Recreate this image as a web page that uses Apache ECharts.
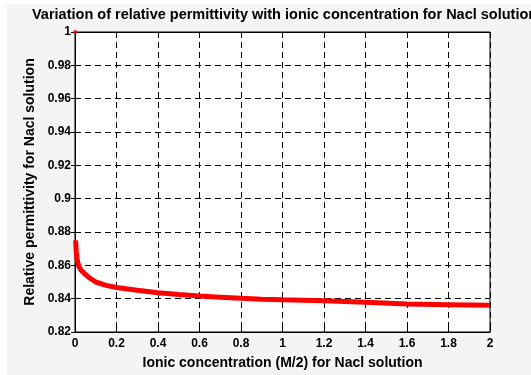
<!DOCTYPE html>
<html>
<head>
<meta charset="utf-8">
<script src="https://cdn.jsdelivr.net/npm/echarts@6/dist/echarts.min.js"></script>
<style>
  html, body { margin: 0; padding: 0; }
  #chart { width: 531px; height: 375px; }
</style>
</head>
<body>
<div id="chart"></div>
<script>
// data
var concX = [0.003, 0.006, 0.01, 0.015, 0.02, 0.03, 0.05, 0.075, 0.1, 0.15, 0.2, 0.3, 0.4, 0.5, 0.6, 0.7, 0.8, 0.9, 1.0, 1.2, 1.4, 1.6, 1.8, 2.0];
var permittivity = [0.875, 0.868, 0.864, 0.861, 0.859, 0.857, 0.8545, 0.852, 0.850, 0.848, 0.8467, 0.845, 0.8436, 0.8425, 0.8416, 0.8409, 0.8402, 0.8397, 0.8393, 0.8387, 0.8379, 0.8368, 0.8364, 0.836];
var startPoint = [0, 1];
var xTicks = { min: 0, max: 2, step: 0.2 };
var yTicks = { min: 0.82, max: 1, step: 0.02 };

var lineData = concX.map(function (c, i) { return [c, permittivity[i]]; });

var chart = echarts.init(document.getElementById('chart'));

var font = 'Liberation Sans, Arial, Helvetica, sans-serif';
var gridDash = { color: '#000', width: 1, type: [6, 4] };

chart.setOption({
  backgroundColor: '#f4f4f4',
  animation: false,
  graphic: [
    { type: 'rect', left: 0, top: 0, shape: { width: 7, height: 375 }, style: { fill: '#fff' }, silent: true },
    { type: 'rect', left: 0, top: 0, shape: { width: 531, height: 4 }, style: { fill: '#fff' }, silent: true }
  ],
  title: {
    text: 'Variation of relative permittivity with ionic concentration for Nacl solution',
    left: 32,
    top: 7,
    padding: 0,
    textStyle: { fontFamily: font, fontSize: 14.5, fontWeight: 'bold', color: '#000' }
  },
  grid: {
    left: 75, right: 41, top: 32, bottom: 40,
    show: true, backgroundColor: '#fff', borderColor: '#000', borderWidth: 1
  },
  xAxis: [{
    type: 'value',
    min: xTicks.min, max: xTicks.max, interval: xTicks.step,
    name: 'Ionic concentration (M/2) for Nacl solution',
    nameLocation: 'middle',
    nameGap: 24,
    nameTextStyle: { fontFamily: font, fontSize: 14, fontWeight: 'bold', color: '#000' },
    axisLine: { show: true, lineStyle: { color: '#000', width: 1 } },
    axisTick: { show: true, inside: true, length: 4, lineStyle: { color: '#000' } },
    axisLabel: { fontFamily: font, fontSize: 12, fontWeight: 'bold', color: '#000', margin: 6 },
    splitLine: { show: true, lineStyle: gridDash }
  }, {
    type: 'value', position: 'top',
    min: xTicks.min, max: xTicks.max, interval: xTicks.step,
    axisLine: { show: true, lineStyle: { color: '#000', width: 1 } },
    axisTick: { show: true, inside: true, length: 4, lineStyle: { color: '#000' } },
    axisLabel: { show: false },
    splitLine: { show: false }
  }],
  yAxis: [{
    type: 'value',
    min: yTicks.min, max: yTicks.max, interval: yTicks.step,
    name: 'Relative permittivity for Nacl solution',
    nameLocation: 'middle',
    nameGap: 29,
    nameTextStyle: { fontFamily: font, fontSize: 14, fontWeight: 'bold', color: '#000' },
    axisLine: { show: true, lineStyle: { color: '#000', width: 1 } },
    axisTick: { show: true, inside: true, length: 4, lineStyle: { color: '#000' } },
    axisLabel: { fontFamily: font, fontSize: 12, fontWeight: 'bold', color: '#000', margin: 4 },
    splitLine: { show: true, lineStyle: gridDash }
  }, {
    type: 'value', position: 'right',
    min: yTicks.min, max: yTicks.max, interval: yTicks.step,
    axisLine: { show: true, lineStyle: { color: '#000', width: 1 } },
    axisTick: { show: true, inside: true, length: 4, lineStyle: { color: '#000' } },
    axisLabel: { show: false },
    splitLine: { show: false }
  }],
  series: [{
    type: 'line',
    data: lineData,
    showSymbol: false,
    smooth: false,
    lineStyle: { color: '#ff0000', width: 5 },
    z: 3
  }, {
    type: 'scatter',
    data: [startPoint],
    symbolSize: 4,
    itemStyle: { color: '#ff0000' },
    z: 3
  }]
});
</script>
</body>
</html>
